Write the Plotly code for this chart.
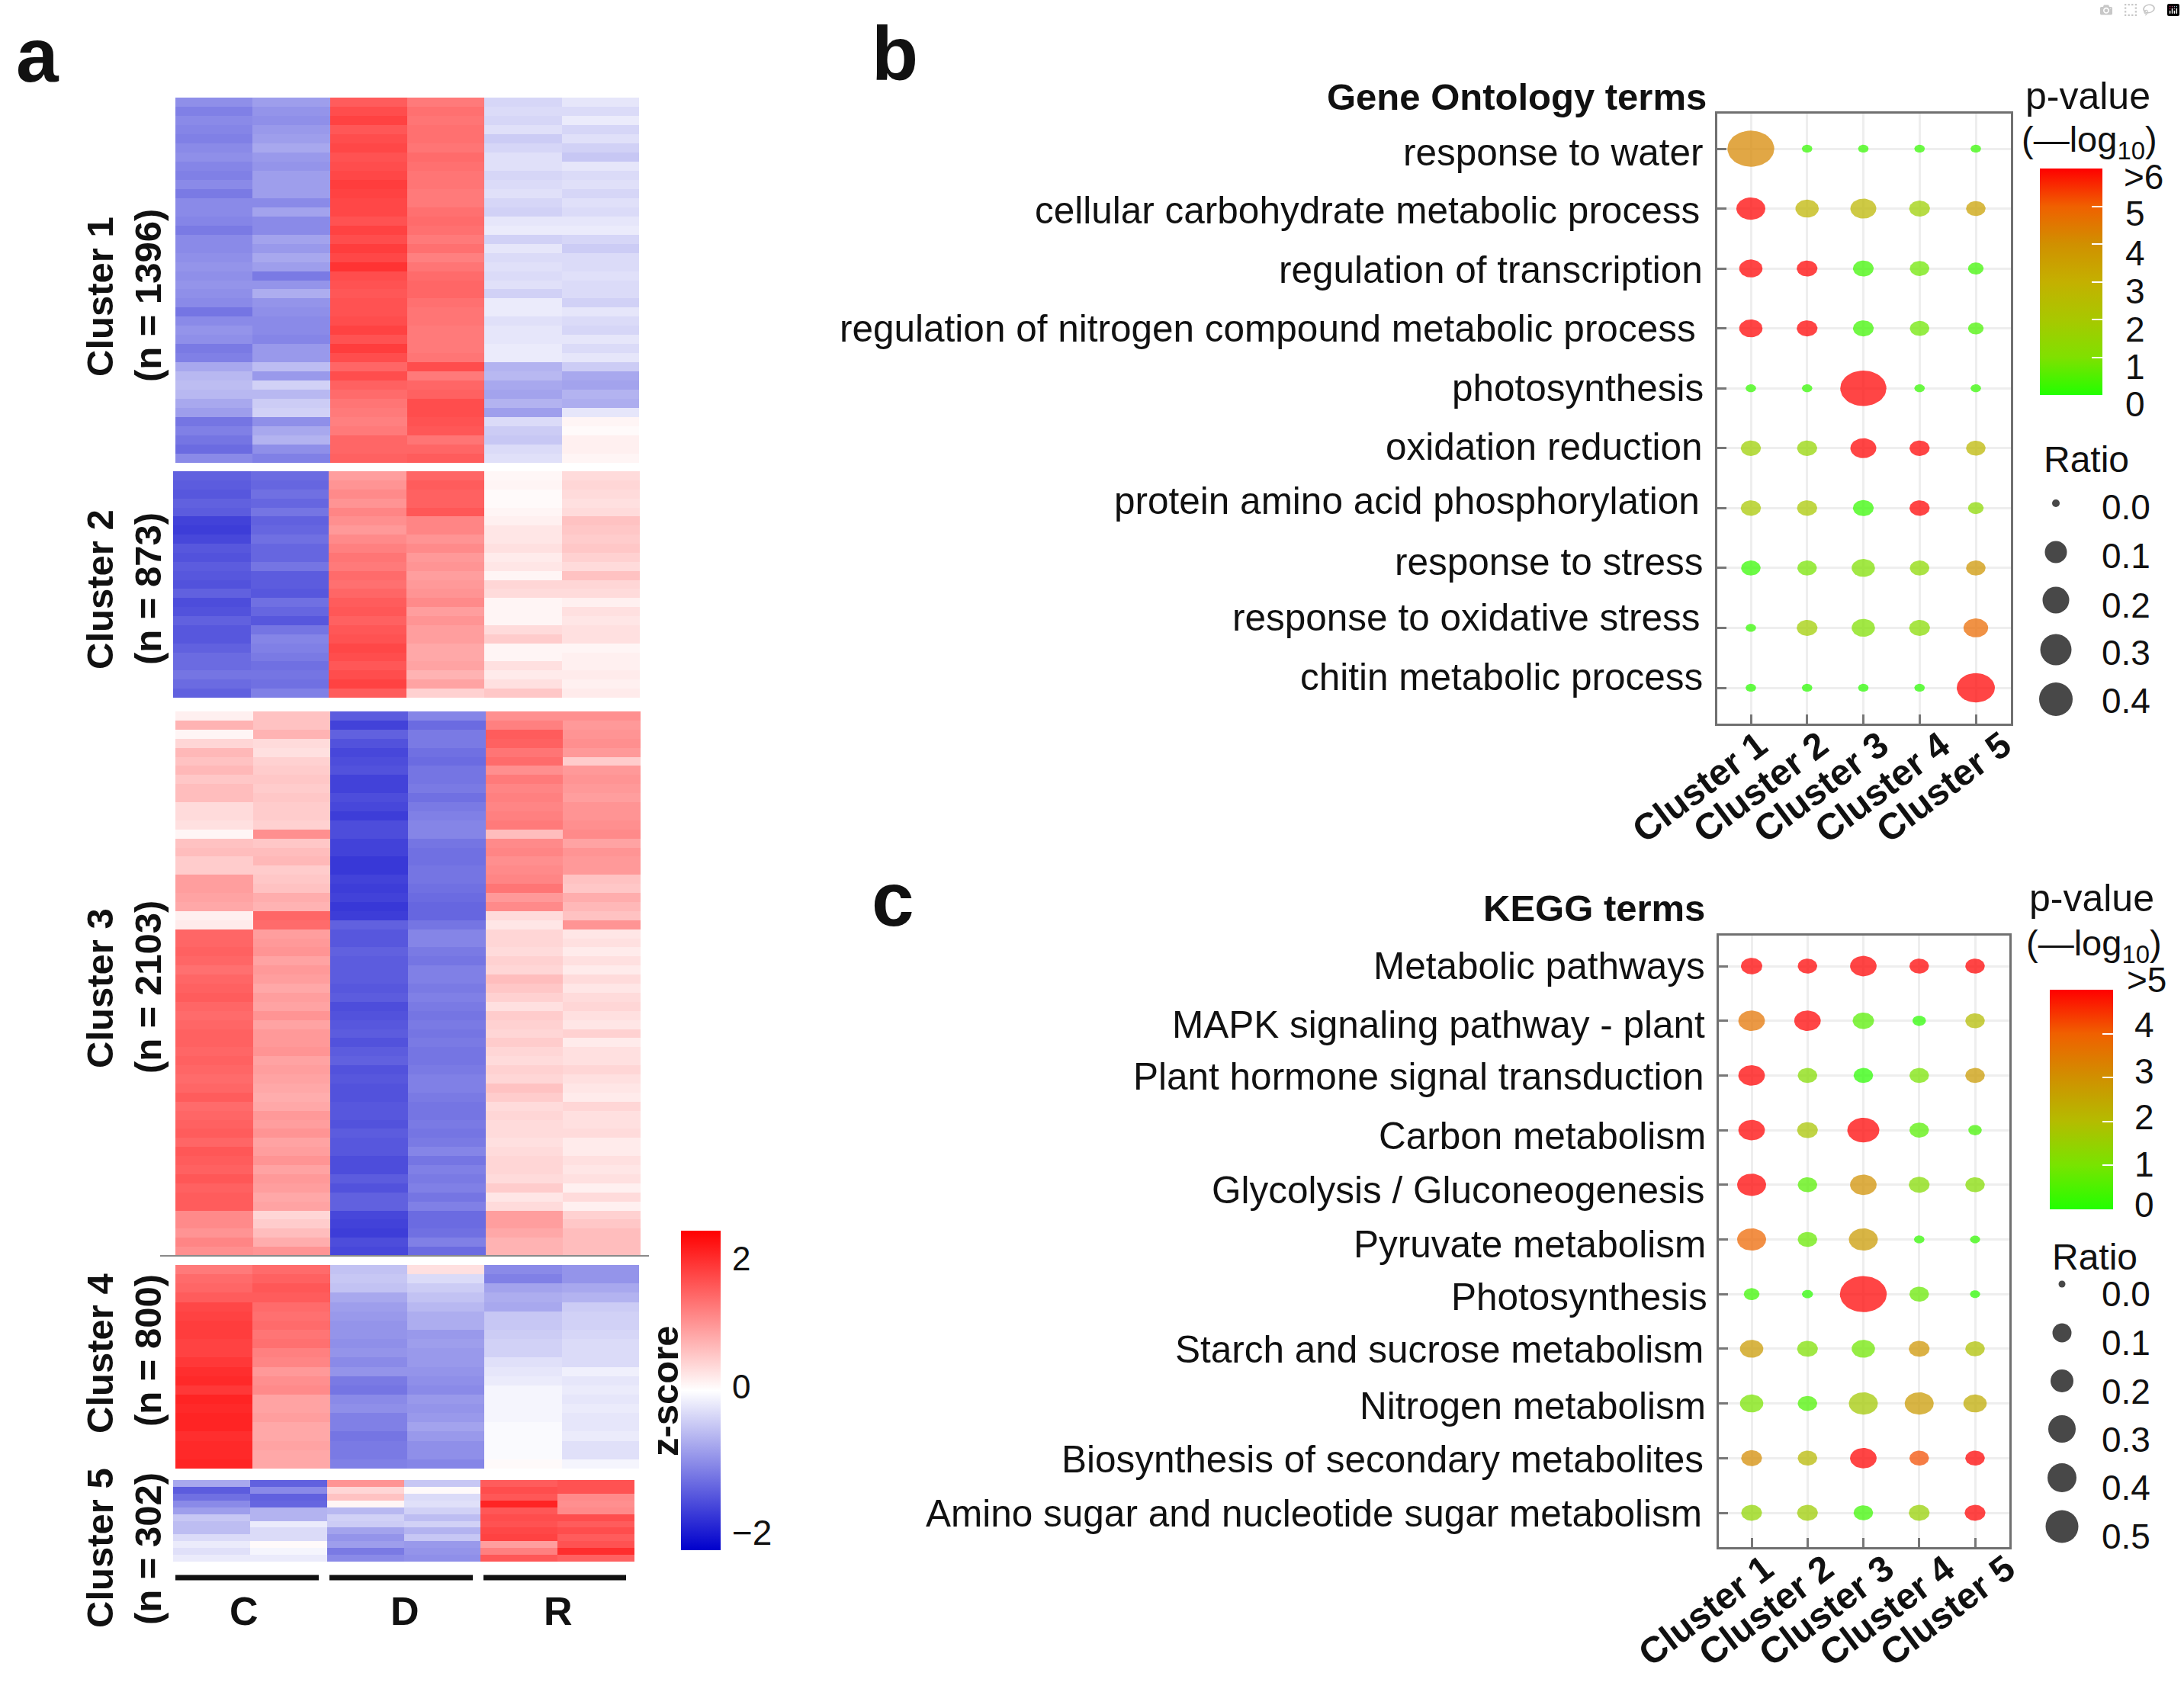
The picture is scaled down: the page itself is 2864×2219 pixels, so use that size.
import numpy as np
import plotly.graph_objects as go

W, H = 2864, 2219
FONT = "Liberation Sans"

# ---------- panel a: z-scores (columns C1 C2 D1 D2 R1 R2) ----------
sample_columns = ["C1", "C2", "D1", "D2", "R1", "R2"]
cluster1 = [
[-1.10,-0.95,1.60,1.30,-0.40,-0.25],[-1.25,-1.05,1.75,1.40,-0.35,-0.35],[-1.15,-1.10,1.85,1.35,-0.40,-0.20],
[-1.20,-1.00,1.65,1.40,-0.30,-0.40],[-1.25,-0.95,1.75,1.40,-0.50,-0.30],[-1.15,-0.85,1.80,1.35,-0.40,-0.45],
[-1.10,-1.00,1.70,1.45,-0.30,-0.55],[-1.20,-1.05,1.75,1.40,-0.30,-0.25],[-1.25,-0.95,1.80,1.35,-0.40,-0.35],
[-1.15,-0.95,1.90,1.35,-0.35,-0.30],[-1.30,-0.95,1.85,1.30,-0.30,-0.40],[-1.15,-1.15,1.80,1.30,-0.40,-0.30],
[-1.15,-0.90,1.80,1.40,-0.45,-0.35],[-1.20,-1.15,1.70,1.45,-0.25,-0.25],[-1.30,-1.15,1.85,1.40,-0.20,-0.20],
[-1.15,-0.90,1.75,1.30,-0.45,-0.40],[-1.15,-1.00,1.90,1.40,-0.25,-0.50],[-1.10,-0.85,1.80,1.25,-0.35,-0.35],
[-1.05,-0.95,2.00,1.35,-0.30,-0.35],[-1.10,-1.30,1.75,1.45,-0.35,-0.30],[-1.05,-1.05,1.70,1.50,-0.30,-0.35],
[-1.10,-0.80,1.65,1.50,-0.45,-0.35],[-1.15,-1.05,1.70,1.40,-0.20,-0.45],[-1.35,-1.10,1.70,1.35,-0.20,-0.25],
[-1.15,-1.15,1.75,1.35,-0.30,-0.35],[-1.05,-1.15,1.85,1.30,-0.25,-0.40],[-1.10,-1.20,1.70,1.30,-0.25,-0.25],
[-1.30,-1.00,1.90,1.30,-0.20,-0.35],[-1.25,-1.00,1.75,1.35,-0.20,-0.25],[-0.85,-0.65,1.50,1.75,-0.75,-0.50],
[-0.70,-1.00,1.75,1.30,-0.70,-0.85],[-0.65,-0.45,1.55,1.50,-0.85,-0.90],[-0.70,-0.70,1.45,1.55,-0.90,-0.75],
[-0.85,-0.50,1.35,1.75,-0.75,-0.80],[-0.95,-0.45,1.30,1.75,-0.95,-0.25],[-1.35,-1.10,1.25,1.70,-0.35,0.10],
[-1.25,-0.85,1.30,1.65,-0.50,0.05],[-1.35,-0.75,1.50,1.35,-0.55,0.15],[-1.45,-1.10,1.50,1.50,-0.35,0.15],
[-1.15,-1.25,1.55,1.60,-0.30,0.10]]
cluster2 = [
[-1.55,-1.45,0.95,1.50,0.08,0.35],[-1.60,-1.50,1.05,1.60,0.10,0.40],[-1.65,-1.40,1.15,1.55,0.05,0.35],
[-1.55,-1.50,1.05,1.55,0.05,0.30],[-1.60,-1.35,1.20,1.65,0.10,0.35],[-1.85,-1.55,1.10,1.20,0.15,0.60],
[-1.90,-1.50,1.00,1.20,0.25,0.55],[-1.80,-1.40,1.15,1.05,0.25,0.50],[-1.65,-1.50,1.25,1.15,0.30,0.55],
[-1.70,-1.50,1.35,1.00,0.20,0.45],[-1.60,-1.35,1.30,1.05,0.25,0.35],[-1.65,-1.60,1.45,0.95,0.10,0.60],
[-1.70,-1.60,1.40,1.00,0.40,0.40],[-1.55,-1.65,1.50,1.05,0.35,0.35],[-1.75,-1.40,1.60,1.15,0.10,0.15],
[-1.70,-1.50,1.65,0.95,0.10,0.30],[-1.55,-1.65,1.55,1.05,0.10,0.25],[-1.65,-1.35,1.65,0.95,0.35,0.30],
[-1.65,-1.20,1.70,0.95,0.50,0.30],[-1.55,-1.25,1.80,0.85,0.10,0.10],[-1.45,-1.30,1.75,0.85,0.10,0.15],
[-1.45,-1.40,1.65,0.90,0.30,0.15],[-1.35,-1.35,1.75,0.75,0.20,0.20],[-1.45,-1.40,1.85,0.90,0.30,0.15],
[-1.55,-1.25,1.60,0.45,0.55,0.20]]
cluster3 = [
[0.15,0.60,-1.60,-1.20,1.10,1.10],[0.75,0.60,-1.85,-1.45,1.25,1.00],[0.10,0.75,-1.55,-1.30,1.60,1.05],
[0.40,0.35,-1.70,-1.30,1.55,1.10],[0.70,0.30,-1.80,-1.40,1.35,1.00],[0.60,0.45,-1.75,-1.45,1.45,0.50],
[0.70,0.50,-1.70,-1.35,1.10,1.00],[0.55,0.55,-1.85,-1.35,1.30,1.05],[0.65,0.50,-1.85,-1.30,1.20,1.00],
[0.65,0.55,-1.75,-1.40,1.25,0.95],[0.35,0.50,-1.80,-1.30,1.20,1.05],[0.35,0.50,-1.90,-1.25,1.25,1.05],
[0.30,0.45,-1.75,-1.20,1.30,1.10],[0.10,1.10,-1.75,-1.20,0.65,1.15],[0.60,0.55,-1.85,-1.35,1.15,0.90],
[0.65,0.65,-1.85,-1.40,1.20,1.05],[0.50,0.70,-1.95,-1.40,1.10,1.00],[0.50,0.50,-1.95,-1.35,1.15,1.00],
[0.95,0.55,-1.85,-1.35,1.20,0.60],[0.95,0.60,-1.90,-1.40,1.35,0.55],[0.90,0.80,-1.85,-1.45,1.00,0.80],
[0.85,0.75,-1.95,-1.50,1.15,0.70],[0.15,1.50,-1.90,-1.50,0.35,0.60],[0.20,1.45,-1.55,-1.35,0.25,1.05],
[1.50,0.95,-1.65,-1.20,0.40,0.25],[1.50,1.00,-1.65,-1.20,0.40,0.30],[1.55,1.05,-1.55,-1.30,0.35,0.20],
[1.50,0.90,-1.60,-1.35,0.45,0.30],[1.40,1.00,-1.60,-1.25,0.40,0.20],[1.50,0.95,-1.60,-1.25,0.65,0.35],
[1.55,0.85,-1.65,-1.30,0.55,0.25],[1.60,0.95,-1.60,-1.25,0.45,0.35],[1.50,0.90,-1.75,-1.30,0.30,0.40],
[1.45,1.05,-1.70,-1.35,0.50,0.30],[1.50,0.90,-1.65,-1.30,0.45,0.25],[1.55,1.00,-1.60,-1.35,0.40,0.45],
[1.55,1.00,-1.70,-1.30,0.50,0.20],[1.50,1.05,-1.60,-1.35,0.40,0.30],[1.55,0.90,-1.55,-1.35,0.35,0.30],
[1.50,0.95,-1.70,-1.30,0.45,0.40],[1.45,0.90,-1.65,-1.25,0.40,0.30],[1.50,0.85,-1.70,-1.25,0.60,0.25],
[1.60,0.80,-1.70,-1.30,0.50,0.20],[1.45,0.85,-1.65,-1.35,0.35,0.40],[1.50,1.00,-1.65,-1.35,0.40,0.30],
[1.55,0.95,-1.70,-1.30,0.35,0.30],[1.60,1.05,-1.60,-1.35,0.35,0.35],[1.50,0.90,-1.65,-1.30,0.30,0.20],
[1.65,0.95,-1.65,-1.20,0.35,0.20],[1.60,1.05,-1.75,-1.35,0.40,0.30],[1.55,0.90,-1.75,-1.25,0.40,0.25],
[1.65,1.00,-1.60,-1.30,0.35,0.30],[1.55,0.95,-1.70,-1.25,0.50,0.15],[1.60,0.85,-1.55,-1.35,0.25,0.35],
[1.60,0.90,-1.55,-1.25,0.35,0.15],[1.15,0.40,-1.80,-1.45,0.95,0.45],[1.15,0.50,-1.85,-1.45,0.95,0.55],
[1.05,0.65,-1.90,-1.40,0.85,0.65],[1.20,0.80,-1.75,-1.25,0.75,0.65],[1.10,1.05,-1.80,-1.45,0.75,0.65]]
cluster4 = [
[1.30,1.45,-0.60,0.30,-1.15,-1.05],[1.45,1.55,-0.55,-0.35,-1.25,-1.05],[1.50,1.65,-0.60,-0.50,-0.90,-0.85],
[1.60,1.60,-0.85,-0.60,-0.80,-0.75],[1.80,1.45,-0.95,-0.70,-0.85,-0.50],[1.85,1.40,-1.00,-0.80,-0.55,-0.45],
[1.90,1.45,-1.05,-0.80,-0.55,-0.45],[1.90,1.35,-1.05,-1.00,-0.50,-0.40],[1.85,1.40,-1.10,-0.95,-0.45,-0.35],
[1.85,1.25,-1.05,-1.00,-0.45,-0.35],[1.95,1.20,-1.15,-1.00,-0.30,-0.35],[2.05,1.00,-1.05,-1.05,-0.25,-0.15],
[2.10,1.10,-1.30,-1.10,-0.20,-0.25],[1.95,1.15,-1.35,-1.15,-0.10,-0.20],[2.15,0.90,-1.15,-1.00,-0.10,-0.25],
[2.10,0.90,-1.10,-1.05,-0.10,-0.20],[2.15,0.95,-1.25,-1.00,-0.10,-0.25],[2.15,0.85,-1.25,-0.90,-0.05,-0.25],
[2.05,0.85,-1.35,-1.00,-0.05,-0.20],[2.10,0.90,-1.30,-1.10,-0.05,-0.30],[2.10,0.85,-1.30,-1.10,-0.05,-0.30],
[2.15,0.85,-1.25,-1.20,0.05,-0.10]]
cluster5 = [
[-0.85,-1.55,1.05,-0.55,1.60,1.70],[-1.60,-1.15,0.40,0.05,1.75,1.70],[-1.40,-1.55,0.60,-0.35,1.65,1.15],
[-1.15,-1.50,0.10,-0.30,2.15,1.10],[-0.95,-0.75,-0.70,-0.45,1.65,1.15],[-0.55,-0.75,-0.45,-0.65,1.75,1.75],
[-0.65,-0.20,-0.50,-0.45,1.70,1.60],[-0.65,-0.35,-0.90,-0.75,1.80,1.75],[-0.35,-0.35,-1.05,-0.55,1.85,1.60],
[-0.20,0.05,-0.95,-1.00,0.95,1.70],[-0.30,-0.10,-1.30,-1.05,1.25,2.05],[-0.20,-0.20,-1.15,-1.10,1.65,1.55]]
cluster_names = ["Cluster 1", "Cluster 2", "Cluster 3", "Cluster 4", "Cluster 5"]
cluster_sizes = ["(n = 1396)", "(n = 873)", "(n = 2103)", "(n = 800)", "(n = 302)"]
group_labels = ["C", "D", "R"]

# ---------- panel b ----------
go_terms = ["response to water", "cellular carbohydrate metabolic process", "regulation of transcription",
            "regulation of nitrogen compound metabolic process", "photosynthesis", "oxidation reduction",
            "protein amino acid phosphorylation", "response to stress", "response to oxidative stress",
            "chitin metabolic process"]
go_pvalue = [[4.2,0.2,0.2,0.2,0.2],[6,2.8,2.7,1.7,3.5],[6,6,0.3,0.8,0.3],[6,6,0.3,0.8,0.4],[0.2,0.2,6,0.2,0.2],
             [1.7,1.5,6,6,2.7],[2,2,0.2,6,1.3],[0.2,0.9,1.0,1.3,3.8],[0.2,1.8,1.0,1.2,4.8],[0.1,0.1,0.1,0.1,6]]
go_ratio = [[.43,.02,.02,.02,.02],[.15,.08,.10,.06,.05],[.08,.06,.06,.05,.037],[.08,.06,.06,.05,.037],
            [.02,.02,.42,.02,.02],[.055,.055,.10,.055,.05],[.055,.055,.06,.055,.037],[.05,.05,.08,.05,.05],
            [.02,.06,.08,.06,.09],[.02,.02,.02,.02,.30]]
go_ratio_legend = [0.0, 0.1, 0.2, 0.3, 0.4]
go_ticks = [">6", "5", "4", "3", "2", "1", "0"]

# ---------- panel c ----------
kegg_terms = ["Metabolic pathways", "MAPK signaling pathway - plant", "Plant hormone signal transduction",
              "Carbon metabolism", "Glycolysis / Gluconeogenesis", "Pyruvate metabolism", "Photosynthesis",
              "Starch and sucrose metabolism", "Nitrogen metabolism", "Biosynthesis of secondary metabolites",
              "Amino sugar and nucleotide sugar metabolism"]
kegg_pvalue = [[5,5,5,5,5],[3.6,5,0.6,0.1,2],[5,1.2,0.1,1,2.8],[5,1.8,5,0.6,0.4],[5,0.6,3,1.2,1.2],
               [3.9,0.8,2.8,0.2,0.2],[0.3,0.1,5,0.8,0.1],[2.8,1.1,0.9,2.9,1.9],[1,0.5,1.7,2.8,2.4],
               [3.1,2.1,5,4.2,5],[1.4,1.6,0.3,1.5,5]]
kegg_ratio = [[.065,.05,.11,.05,.05],[.11,.11,.065,.03,.05],[.11,.05,.05,.05,.05],[.11,.06,.20,.05,.03],
              [.15,.05,.11,.06,.05],[.15,.05,.15,.02,.015],[.037,.022,.43,.05,.015],[.08,.06,.08,.06,.05],
              [.08,.05,.15,.15,.08],[.06,.05,.11,.05,.05],[.06,.06,.05,.06,.06]]
kegg_ratio_legend = [0.0, 0.1, 0.2, 0.3, 0.4, 0.5]
kegg_ticks = [">5", "4", "3", "2", "1", "0"]
bubble_columns = ["Cluster 1", "Cluster 2", "Cluster 3", "Cluster 4", "Cluster 5"]

# ---------- styles ----------
HEAT_SCALE = [[0, "#0000cc"], [0.5, "#ffffff"], [1, "#ff0000"]]
GO_SCALE = [[0, "#22ff00"], [1/6, "#80e000"], [2/6, "#a8c800"], [3/6, "#c4b000"], [4/6, "#d09000"], [5/6, "#f06000"], [1, "#ff0000"]]
KEGG_SCALE = [[0, "#22ff00"], [.2, "#78e400"], [.4, "#b4bc00"], [.6, "#d09000"], [.8, "#f06000"], [1, "#ff0000"]]
RATIO_KNOTS = [0, .02, .05, .1, .2, .3, .42, .5]
WIDTH_KNOTS = [12, 13.7, 25.5, 34, 42, 50, 60.5, 68]   # bubble width in px for each ratio knot
ASPECT = 1.3
# where the reference places each row label (right end, centre), in picture pixels
GO_LABEL_RIGHT = [2235, 2231, 2235, 2226, 2236, 2235, 2231, 2235, 2232, 2235]
GO_LABEL_Y = [199, 275, 353, 430, 509, 585, 657, 736, 809, 887]
KEGG_LABEL_RIGHT = [2238, 2238, 2236, 2239, 2238, 2239, 2241, 2236, 2239, 2236, 2234]
KEGG_LABEL_Y = [1266, 1343, 1411, 1489, 1560, 1631, 1700, 1769, 1843, 1913, 1984]
GO_COLUMN_LABEL_X = [2228, 2308, 2387, 2468, 2548]
KEGG_COLUMN_LABEL_X = [2236, 2315, 2394, 2474, 2553]


def px(x):
    return x / W


def py(y):
    return 1 - y / H


def mix(scale, t):
    t = min(max(t, 0), 1)
    for (a, ca), (b, cb) in zip(scale[:-1], scale[1:]):
        if t <= b:
            f = (t - a) / (b - a)
            c0 = [int(ca[i:i + 2], 16) for i in (1, 3, 5)]
            c1 = [int(cb[i:i + 2], 16) for i in (1, 3, 5)]
            return [c0[i] + f * (c1[i] - c0[i]) for i in range(3)]
    return [255, 0, 0]


fig = go.Figure()
layout = dict(width=W, height=H, autosize=False, margin=dict(l=0, r=0, t=0, b=0, pad=0, autoexpand=False),
              paper_bgcolor="white", plot_bgcolor="rgba(0,0,0,0)", showlegend=False,
              font=dict(family=FONT, color="#111111"))
annotations, shapes = [], []


def note(text, x, y, size, bold=False, anchor="center", angle=0, color="#111111"):
    annotations.append(dict(text=f"<b>{text}</b>" if bold else text, x=px(x), y=py(y), xref="paper", yref="paper",
                            showarrow=False, xanchor=anchor, yanchor="middle", textangle=angle,
                            font=dict(size=size, family=FONT, color=color)))


# ---------- heatmaps ----------
heat_boxes = [(230, 838, 128, 607), (227, 839, 618, 915), (230, 840, 933, 1647), (230, 838, 1659, 1926), (227, 832, 1941, 2048)]
heat_rows = [cluster1, cluster2, cluster3, cluster4, cluster5]
for k, (rows, box) in enumerate(zip(heat_rows, heat_boxes), start=1):
    x0, x1, y0, y1 = box
    fig.add_trace(go.Heatmap(z=rows, x=list(range(6)), y=list(range(len(rows))), coloraxis="coloraxis",
                             xaxis=f"x{k}", yaxis=f"y{k}", hoverinfo="skip"))
    layout[f"xaxis{k}"] = dict(domain=[px(x0), px(x1)], range=[-.5, 5.5], visible=False, anchor=f"y{k}", fixedrange=True,
                               tickvals=list(range(6)), ticktext=sample_columns)
    layout[f"yaxis{k}"] = dict(domain=[py(y1), py(y0)], range=[len(rows) - .5, -.5], visible=False, anchor=f"x{k}", fixedrange=True)

layout["coloraxis"] = dict(colorscale=HEAT_SCALE, cmin=-2.5, cmax=2.5,
                           colorbar=dict(x=px(893), xanchor="left", xpad=0, ypad=0, y=py(1614), yanchor="top",
                                         len=419, lenmode="pixels", thickness=52, thicknessmode="pixels",
                                         outlinewidth=0, ticks="", showticklabels=False))

for name, size, y1, y2 in zip(cluster_names, cluster_sizes, [389, 773, 1296, 1775, 2030], [388, 772, 1295, 1771, 2031]):
    note(name, 131, y1, 49, bold=True, angle=-90)
    note(size, 194, y2, 49, bold=True, angle=-90)

for (a, b), lab, xc in zip([(230, 418), (432, 620), (634, 821)], group_labels, [320, 531, 732]):
    shapes.append(dict(type="line", xref="paper", yref="paper", x0=px(a), x1=px(b), y0=py(2069), y1=py(2069),
                       line=dict(color="#111111", width=7)))
    note(lab, xc, 2113, 52, bold=True)
shapes.append(dict(type="line", xref="paper", yref="paper", x0=px(210), x1=px(851), y0=py(1647), y1=py(1647),
                   line=dict(color="#8a8a8a", width=2)))
note("z-score", 872, 1824, 49, bold=True, angle=-90)
note("2", 958, 1650, 44, anchor="left")
note("0", 958, 1818, 44, anchor="left")
note("\u22122", 958, 2010, 46, anchor="left")


# ---------- bubble panels ----------
def bubble_panel(k, terms, pvals, ratios, scale, pmax, box, cx, cy, ca, ca_ticks, bar, label_right, label_y, col_x, col_y):
    x0, x1, y0, y1 = box
    dx = (cx[1] - cx[0]) / 4
    dy = (cy[1] - cy[0]) / (len(terms) - 1)
    xr = [(x0 - cx[0]) / dx, (x1 - cx[0]) / dx]
    yr = [(y1 - cy[0]) / dy, (y0 - cy[0]) / dy]
    t = np.linspace(0, 2 * np.pi, 49)
    mx, my, mc = [], [], []
    for i in range(len(terms)):
        for j in range(5):
            w = float(np.interp(ratios[i][j], RATIO_KNOTS, WIDTH_KNOTS))
            r, g, b = mix(scale, pvals[i][j] / pmax)
            mx.append(j); my.append(i); mc.append(pvals[i][j])
            fig.add_trace(go.Scatter(x=j + w / 2 / dx * np.cos(t), y=i + w / ASPECT / 2 / dy * np.sin(t), mode="lines",
                                     fill="toself", fillcolor=f"rgba({r:.0f},{g:.0f},{b:.0f},0.73)", line=dict(width=0),
                                     hoverinfo="skip", xaxis=f"x{k}", yaxis=f"y{k}"))
    # the values themselves, which also carry the colour bar (and a hairline bar whose ticks mark the left edge)
    for axis_name in (ca_ticks, ca):
        fig.add_trace(go.Scatter(x=mx, y=my, mode="markers", xaxis=f"x{k}", yaxis=f"y{k}", hoverinfo="skip",
                                 marker=dict(size=6, opacity=0, color=mc, coloraxis=axis_name)))
    common = dict(showline=True, mirror=True, linecolor="#707070", linewidth=3, showgrid=True, gridcolor="#eeeeee",
                  gridwidth=3, zeroline=False, ticks="inside", ticklen=12, tickwidth=3, tickcolor="#777777", fixedrange=True)
    layout[f"xaxis{k}"] = dict(domain=[px(x0), px(x1)], range=xr, anchor=f"y{k}", tickvals=list(range(5)),
                               ticktext=bubble_columns, showticklabels=False, **common)
    layout[f"yaxis{k}"] = dict(domain=[py(y1), py(y0)], range=yr, anchor=f"x{k}", tickvals=list(range(len(terms))),
                               ticktext=terms, showticklabels=False, **common)
    for term, right, y in zip(terms, label_right, label_y):
        note(term, right, y, 49.5, anchor="right")
    for name, x in zip(bubble_columns, col_x):
        note(name, x, col_y, 48, bold=True, angle=-37)
    bx0, bx1, by0, by1 = bar
    bar_common = dict(xpad=0, ypad=0, y=py(by0), yanchor="top", len=by1 - by0, lenmode="pixels",
                      thicknessmode="pixels", outlinewidth=0, ticklen=14, tickwidth=2, tickcolor="white",
                      tickvals=list(range(1, int(pmax))), showticklabels=False, xanchor="left")
    layout[ca] = dict(colorscale=scale, cmin=0, cmax=pmax,
                      colorbar=dict(x=px(bx0), thickness=bx1 - bx0, ticks="inside", **bar_common))
    layout[ca_ticks] = dict(colorscale=scale, cmin=0, cmax=pmax,
                            colorbar=dict(x=px(bx0), thickness=1, ticks="outside", **bar_common))


bubble_panel(6, go_terms, go_pvalue, go_ratio, GO_SCALE, 6, (2252, 2637, 149, 949), (2296, 2591), (195, 902),
             "coloraxis3", "coloraxis2", (2675, 2757, 221, 518), GO_LABEL_RIGHT, GO_LABEL_Y, GO_COLUMN_LABEL_X, 1032)
bubble_panel(7, kegg_terms, kegg_pvalue, kegg_ratio, KEGG_SCALE, 5, (2254, 2635, 1227, 2029), (2297, 2590), (1267, 1984),
             "coloraxis5", "coloraxis4", (2688, 2771, 1298, 1586), KEGG_LABEL_RIGHT, KEGG_LABEL_Y, KEGG_COLUMN_LABEL_X, 2112)

# overlay axes in picture pixels for the ratio legends
layout["xaxis8"] = dict(domain=[0, 1], range=[0, W], visible=False, anchor="y8", fixedrange=True)
layout["yaxis8"] = dict(domain=[0, 1], range=[H, 0], visible=False, anchor="x8", fixedrange=True)
for ratios, xpos, ypos, sizes in [(go_ratio_legend, 2696, [660, 724, 787, 852, 917], [10, 29, 35, 41, 44]),
                                  (kegg_ratio_legend, 2704, [1684, 1748, 1811, 1874, 1938, 2002], [9, 25, 30, 36, 38, 43])]:
    fig.add_trace(go.Scatter(x=[xpos] * len(ratios), y=ypos, mode="markers", xaxis="x8", yaxis="y8", hoverinfo="skip",
                             customdata=ratios, marker=dict(size=sizes, color="#484848", opacity=1, line=dict(width=0))))

note("<b>a</b>", 49, 72, 100)
note("<b>b</b>", 1173, 70, 100)
note("<b>c</b>", 1171, 1179, 100)
note("Gene Ontology terms", 2240, 127, 49, bold=True, anchor="right")
note("KEGG terms", 2238, 1191, 49, bold=True, anchor="right")

note("p-value", 2738, 126, 50)
note("(\u2014log<sub>10</sub>)", 2740, 186, 47)
note("Ratio", 2736, 602, 48)
for lab, y in zip(go_ticks, [232, 280, 332, 382, 432, 481, 530]):
    note(lab, 2783 if lab.startswith(">") else 2785, y, 46, anchor="left")
for r, y in zip(go_ratio_legend, [665, 729, 794, 856, 919]):
    note(f"{r:.1f}", 2754, y, 46, anchor="left")

note("p-value", 2743, 1178, 50)
note("(\u2014log<sub>10</sub>)", 2746, 1240, 47)
note("Ratio", 2747, 1648, 48)
for lab, y in zip(kegg_ticks, [1285, 1344, 1405, 1465, 1527, 1580]):
    note(lab, 2787 if lab.startswith(">") else 2797, y, 46, anchor="left")
for r, y in zip(kegg_ratio_legend, [1697, 1761, 1825, 1888, 1951, 2015]):
    note(f"{r:.1f}", 2754, y, 46, anchor="left")

layout["annotations"] = annotations
layout["shapes"] = shapes
fig.update_layout(**layout)
fig.write_html("out.html", post_script="document.body.style.margin='0';document.body.style.overflow='hidden';")
